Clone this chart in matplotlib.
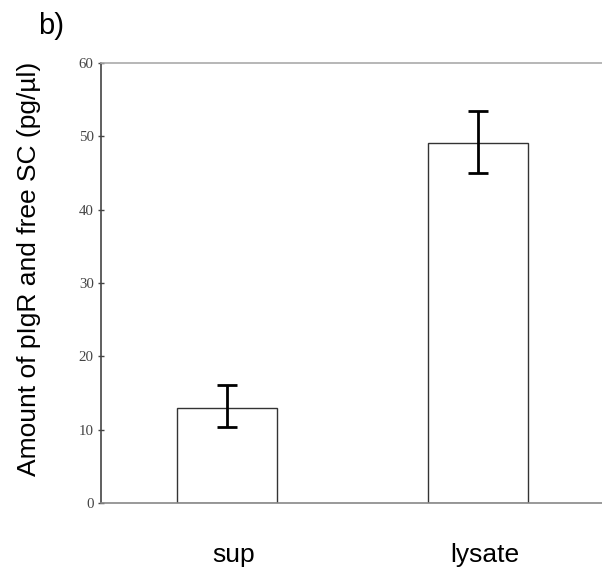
import matplotlib
matplotlib.use("Agg")
import matplotlib.pyplot as plt
import matplotlib.transforms as mtransforms
import numpy as np

# values
groups = ["sup", "lysate"]
amounts = [13.0, 49.1]
err_low = [2.6, 4.1]     # distance from bar top down to lower whisker
err_high = [3.1, 4.3]    # distance from bar top up to upper whisker
y_ticks = [0, 10, 20, 30, 40, 50, 60]

fig = plt.figure(figsize=(6.02, 5.67), dpi=100)
ax = fig.add_axes([0.1678, 0.1129, 0.8322, 0.776])

x = np.arange(len(groups))
ax.bar(x, amounts, width=0.40, color="white", edgecolor="#333333", linewidth=1.0, zorder=2)
ax.errorbar(x, amounts, yerr=[err_low, err_high], fmt="none", ecolor="black",
            elinewidth=2.0, capsize=7.5, capthick=2.0, zorder=3)

ax.set_xlim(-0.502, 1.494)
ax.set_ylim(0, 60)
ax.set_yticks(y_ticks)
ax.set_yticklabels([str(t) for t in y_ticks], family="Liberation Serif", fontsize=10.7, color="#444444")
ax.tick_params(axis="y", direction="inout", length=4.5, width=1, color="#444444", pad=3)

ax.set_xticks(x)
ax.set_xticklabels(groups, family="Liberation Sans", fontsize=19)
ax.tick_params(axis="x", length=0, pad=29)
shift = mtransforms.ScaledTranslation(7 / 100, 0, fig.dpi_scale_trans)
for lbl in ax.get_xticklabels():
    lbl.set_transform(lbl.get_transform() + shift)

ax.spines["right"].set_visible(False)
ax.spines["left"].set_color("#444444")
ax.spines["top"].set_color("#aaaaaa")
ax.spines["bottom"].set_color("#888888")
for s in ("left", "top", "bottom"):
    ax.spines[s].set_linewidth(1.2)

ax.set_ylabel("Amount of pIgR and free SC (pg/\u00b5l)", family="Liberation Sans", fontsize=19)
ax.yaxis.set_label_coords(-0.120, 0.531)

fig.text(0.085, 0.955, "b)", family="Liberation Sans", fontsize=21, ha="center", va="center")

fig.savefig("out.png", dpi=100)
